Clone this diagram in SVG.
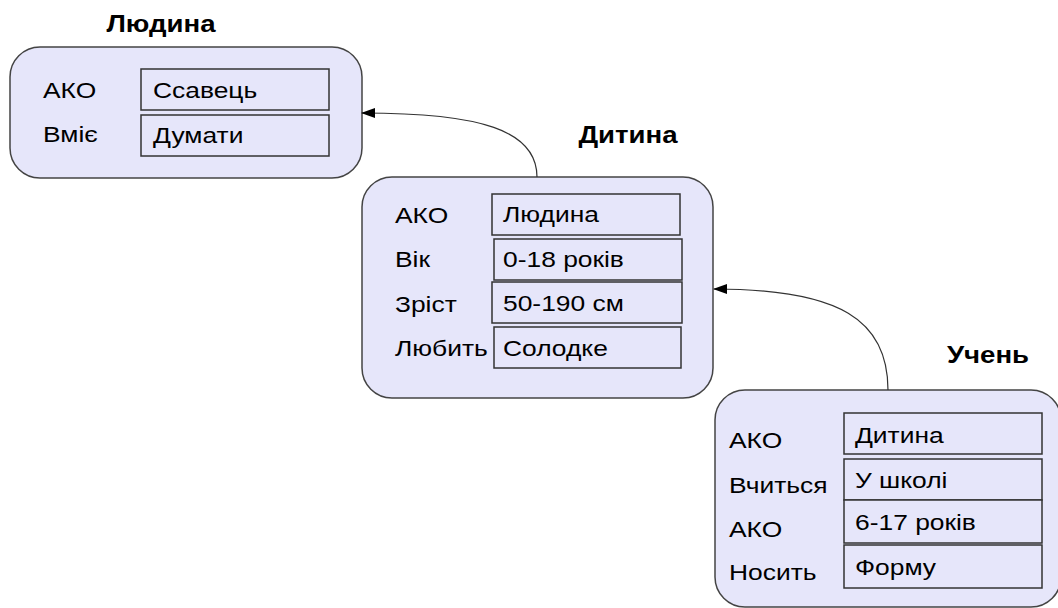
<svg xmlns="http://www.w3.org/2000/svg" width="1058" height="608" viewBox="0 0 1058 608">
  <defs>
    <style>
      .frame { fill: #e6e6fa; stroke: #444; stroke-width: 1.5; }
      .slot { fill: #e6e6fa; stroke: #333; stroke-width: 1.5; }
      .title { font-family: "Liberation Sans", Arial, sans-serif; font-weight: bold; font-size: 23px; fill: #000; text-anchor: middle; }
      .txt { font-family: "Liberation Sans", Arial, sans-serif; font-size: 22px; fill: #000; }
      .link { fill: none; stroke: #333; stroke-width: 1.2; }
    </style>
    <marker id="arrow" markerWidth="14" markerHeight="10" refX="13" refY="5" orient="auto" markerUnits="userSpaceOnUse">
      <path d="M0,0 L14,5 L0,10 Z" fill="#000"/>
    </marker>
  </defs>
  <rect width="1058" height="608" fill="#fff"/>

  <!-- Text is set in a slightly widened face: matrix(1.2 0 0 1 x y) -->

  <!-- Frame: Людина -->
  <g id="node-lyudyna">
    <text class="title" transform="matrix(1.2 0 0 1 161 32)">Людина</text>
    <rect class="frame" x="10" y="47" width="352" height="131" rx="30"/>
    <rect class="slot" x="141" y="69" width="188" height="41"/>
    <rect class="slot" x="141" y="115" width="188" height="41"/>
    <text class="txt" transform="matrix(1.2 0 0 1 43 98)">АКО</text>
    <text class="txt" transform="matrix(1.2 0 0 1 43 142)">Вміє</text>
    <text class="txt" transform="matrix(1.2 0 0 1 153 98)">Ссавець</text>
    <text class="txt" transform="matrix(1.2 0 0 1 153 143)">Думати</text>
  </g>

  <!-- Frame: Дитина -->
  <g id="node-dytyna">
    <text class="title" transform="matrix(1.2 0 0 1 628 143)">Дитина</text>
    <rect class="frame" x="362" y="177" width="351" height="221" rx="30"/>
    <rect class="slot" x="492" y="194" width="188" height="41"/>
    <rect class="slot" x="494" y="239" width="188" height="41"/>
    <rect class="slot" x="492" y="282" width="190" height="41"/>
    <rect class="slot" x="494" y="327" width="187" height="41"/>
    <text class="txt" transform="matrix(1.2 0 0 1 395 223)">АКО</text>
    <text class="txt" transform="matrix(1.2 0 0 1 395 267)">Вік</text>
    <text class="txt" transform="matrix(1.2 0 0 1 395 312)">Зріст</text>
    <text class="txt" transform="matrix(1.2 0 0 1 395 356)">Любить</text>
    <text class="txt" transform="matrix(1.2 0 0 1 503 222)">Людина</text>
    <text class="txt" transform="matrix(1.2 0 0 1 503 267)">0-18 років</text>
    <text class="txt" transform="matrix(1.2 0 0 1 503 311)">50-190 см</text>
    <text class="txt" transform="matrix(1.2 0 0 1 503 356)">Солодке</text>
  </g>

  <!-- Frame: Учень -->
  <g id="node-uchen">
    <text class="title" transform="matrix(1.2 0 0 1 988 363)">Учень</text>
    <rect class="frame" x="715" y="390" width="346" height="217" rx="30"/>
    <rect class="slot" x="844" y="413" width="198" height="41"/>
    <rect class="slot" x="844" y="459" width="198" height="41"/>
    <rect class="slot" x="844" y="500" width="198" height="43"/>
    <rect class="slot" x="844" y="545" width="198" height="43"/>
    <text class="txt" transform="matrix(1.2 0 0 1 729 448)">АКО</text>
    <text class="txt" transform="matrix(1.2 0 0 1 729 493)">Вчиться</text>
    <text class="txt" transform="matrix(1.2 0 0 1 729 537)">АКО</text>
    <text class="txt" transform="matrix(1.2 0 0 1 729 580)">Носить</text>
    <text class="txt" transform="matrix(1.2 0 0 1 855 443)">Дитина</text>
    <text class="txt" transform="matrix(1.2 0 0 1 855 488)">У школі</text>
    <text class="txt" transform="matrix(1.2 0 0 1 855 530)">6-17 років</text>
    <text class="txt" transform="matrix(1.2 0 0 1 855 575)">Форму</text>
  </g>

  <!-- AKO links -->
  <g id="connectors">
    <path class="link" d="M537,177 C537,130 480,113 362,113" marker-end="url(#arrow)"/>
    <path class="link" d="M888,390 C888,320 840,289 714,289" marker-end="url(#arrow)"/>
  </g>
</svg>
